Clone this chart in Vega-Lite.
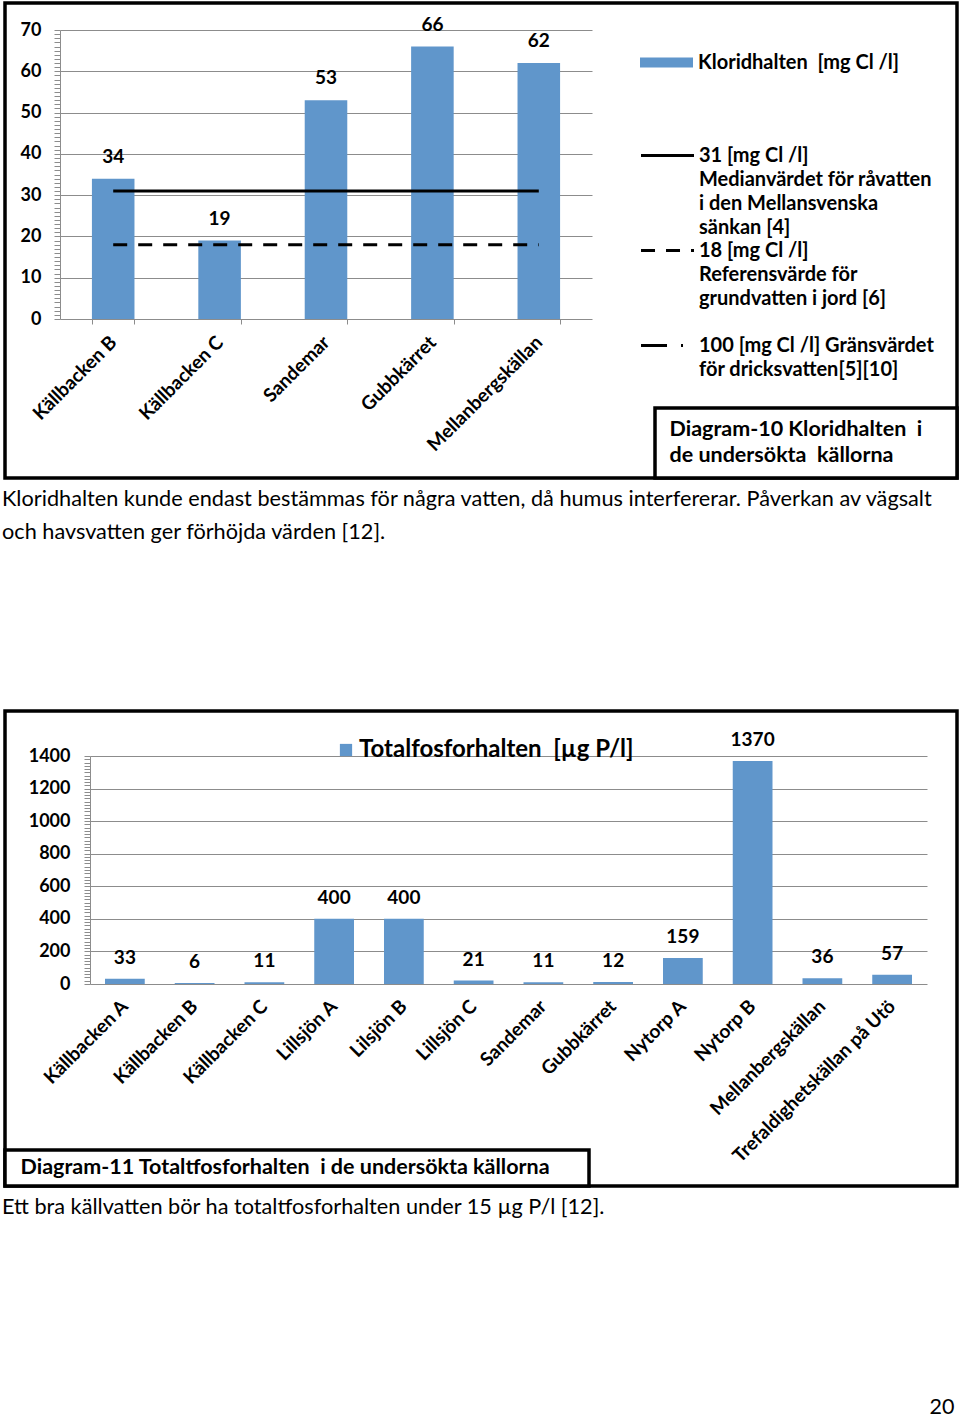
{
  "$schema": "https://vega.github.io/schema/vega-lite/v6.json",
  "padding": {"left": -4, "top": 1, "right": 0, "bottom": 0},
  "background": "white",
  "config": {
    "font": "Lato",
    "view": {"stroke": "black", "strokeWidth": 3.5},
    "axis": {"labelFont": "Lato", "labelFontWeight": "bold", "labelColor": "black", "domainColor": "#8c8c8c", "tickColor": "#8c8c8c", "gridColor": "#8c8c8c"},
    "legend": {"labelLimit": 700, "labelFont": "Lato", "labelColor": "black"},
    "concat": {"spacing": 163},
    "title": {"font": "Lato", "fontWeight": "normal", "color": "black"}
  },
  "resolve": {"scale": {"color": "independent", "shape": "independent", "strokeDash": "independent"}, "legend": {"color": "independent", "shape": "independent", "strokeDash": "independent"}},
  "title": {"text": "20", "orient": "bottom", "anchor": "end", "fontSize": 21.5, "offset": 177, "dx": -6},
  "vconcat": [
    {
      "width": 952,
      "height": 475,
      "title": {"text": ["Kloridhalten kunde endast bestämmas för några vatten, då humus interfererar. Påverkan av vägsalt", "och havsvatten ger förhöjda värden [12]."], "orient": "bottom", "anchor": "start", "frame": "group", "fontSize": 21.7, "lineHeight": 33, "offset": 9, "dx": -3},
      "data": {"values": [
        {"kalla": "Källbacken B", "klorid": 34},
        {"kalla": "Källbacken C", "klorid": 19},
        {"kalla": "Sandemar", "klorid": 53},
        {"kalla": "Gubbkärret", "klorid": 66},
        {"kalla": "Mellanbergskällan", "klorid": 62}
      ]},
      "layer": [
        {
          "mark": {"type": "bar"},
          "encoding": {
            "x": {"field": "kalla", "type": "nominal", "sort": null,
              "scale": {"domain": ["Källbacken B", "Källbacken C", "Sandemar", "Gubbkärret", "Mellanbergskällan"], "range": [55, 587], "paddingInner": 0.6, "paddingOuter": 0.3},
              "axis": {"title": null, "offset": -159, "labelAngle": -45, "labelAlign": "right", "labelBaseline": "middle", "labelFontSize": 19, "labelPadding": 15, "tickBand": "extent", "tickSize": 5, "labelLimit": 300}},
            "y": {"field": "klorid", "type": "quantitative",
              "scale": {"domain": [0, 70], "range": [316, 27], "nice": false},
              "axis": {"title": null, "offset": -55, "tickCount": 200, "format": "d", "values": [0,1,2,3,4,5,6,7,8,9,10,11,12,13,14,15,16,17,18,19,20,21,22,23,24,25,26,27,28,29,30,31,32,33,34,35,36,37,38,39,40,41,42,43,44,45,46,47,48,49,50,51,52,53,54,55,56,57,58,59,60,61,62,63,64,65,66,67,68,69,70],
                "labelExpr": "datum.value % 10 == 0 ? datum.label : ''", "labelOverlap": false, "labelFontSize": 18, "labelPadding": 13, "tickSize": 6,
                "grid": true, "gridOpacity": {"condition": {"test": "datum.value % 10 == 0 && datum.value > 0", "value": 1}, "value": 0}}},
            "color": {"datum": "Kloridhalten\u00a0 [mg Cl /l]", "type": "nominal", "scale": {"range": ["#6096cb"]},
              "legend": {"orient": "none", "legendX": 635, "legendY": 33, "title": null, "padding": 0, "symbolType": "M-1,-0.19H1V0.19H-1Z", "symbolSize": 2809, "symbolStrokeWidth": 0, "symbolOpacity": 1, "labelFontSize": 20, "labelFontWeight": "bold", "labelOffset": 5}}
          }
        },
        {
          "mark": {"type": "text", "baseline": "alphabetic", "dy": -16, "fontSize": 19, "fontWeight": "bold", "font": "Lato", "color": "black"},
          "encoding": {
            "x": {"field": "kalla", "type": "nominal", "sort": null},
            "y": {"field": "klorid", "type": "quantitative"},
            "text": {"field": "klorid", "type": "quantitative"}
          }
        },
        {
          "data": {"values": [
            {"ref": "31 [mg Cl /l] Medianvärdet för råvatten i den Mellansvenska sänkan [4]", "varde": 31},
            {"ref": "18 [mg Cl /l] Referensvärde för grundvatten i jord [6]", "varde": 18}
          ]},
          "mark": {"type": "rule", "strokeWidth": 3, "color": "black"},
          "encoding": {
            "x": {"datum": "Källbacken B", "bandPosition": 0.5},
            "x2": {"datum": "Mellanbergskällan", "bandPosition": 0.5},
            "y": {"field": "varde", "type": "quantitative"},
            "strokeDash": {"field": "ref", "type": "nominal",
              "scale": {"domain": ["31 [mg Cl /l] Medianvärdet för råvatten i den Mellansvenska sänkan [4]", "18 [mg Cl /l] Referensvärde för grundvatten i jord [6]", "100 [mg Cl /l] Gränsvärdet för dricksvatten[5][10]"], "range": [[1, 0], [14, 11], [26, 14, 2, 14]]},
              "legend": {"orient": "none", "legendX": 650, "legendY": 140, "title": null, "padding": 0, "symbolType": "M-2.5,0H2.5", "symbolSize": 449, "symbolStrokeWidth": 3, "symbolStrokeColor": "black", "symbolFillColor": "transparent", "labelFontSize": 20, "labelFontWeight": "bold", "labelOffset": 19, "labelBaseline": "middle", "rowPadding": 0,
                "labelExpr": "datum.label == '31 [mg Cl /l] Medianvärdet för råvatten i den Mellansvenska sänkan [4]' ? ['31 [mg Cl /l]', 'Medianvärdet för råvatten', 'i den Mellansvenska', 'sänkan [4]'] : datum.label == '18 [mg Cl /l] Referensvärde för grundvatten i jord [6]' ? ['18 [mg Cl /l]', 'Referensvärde för', 'grundvatten i jord [6]', ''] : ['100 [mg Cl /l] Gränsvärdet', 'för dricksvatten[5][10]']",
                "encoding": {"labels": {"lineHeight": {"value": 24}}}}}
          }
        },
        {
          "mark": {"type": "point", "opacity": 0},
          "encoding": {
            "x": {"field": "kalla", "type": "nominal", "sort": null},
            "y": {"field": "klorid", "type": "quantitative"},
            "shape": {"datum": "Diagram-10 Kloridhalten i de undersökta källorna", "type": "nominal",
              "legend": {"orient": "none", "legendX": 650, "legendY": 405, "title": null, "padding": 11, "strokeColor": "black", "fillColor": "white", "symbolSize": 0, "symbolOpacity": 0, "labelOffset": -18, "labelFontSize": 21.5, "labelFontWeight": "bold", "labelBaseline": "middle",
                "labelExpr": "['Diagram-10 Kloridhalten\u00a0 i\u00a0\u00a0\u00a0\u00a0\u2009\u200b', 'de undersökta\u00a0 källorna']",
                "encoding": {"labels": {"lineHeight": {"value": 26}}, "legend": {"strokeWidth": {"value": 3.5}}}}}
          }
        }
      ]
    },
    {
      "width": 952,
      "height": 475,
      "title": {"text": "Ett bra källvatten bör ha totaltfosforhalten under 15 µg P/l [12].", "orient": "bottom", "anchor": "start", "frame": "group", "fontSize": 21.7, "offset": 9, "dx": -3},
      "data": {"values": [
        {"kalla": "Källbacken A", "fosfor": 33},
        {"kalla": "Källbacken B", "fosfor": 6},
        {"kalla": "Källbacken C", "fosfor": 11},
        {"kalla": "Lillsjön A", "fosfor": 400},
        {"kalla": "Lilsjön B", "fosfor": 400},
        {"kalla": "Lillsjön C", "fosfor": 21},
        {"kalla": "Sandemar", "fosfor": 11},
        {"kalla": "Gubbkärret", "fosfor": 12},
        {"kalla": "Nytorp A", "fosfor": 159},
        {"kalla": "Nytorp B", "fosfor": 1370},
        {"kalla": "Mellanbergskällan", "fosfor": 36},
        {"kalla": "Trefaldighetskällan på Utö", "fosfor": 57}
      ]},
      "layer": [
        {
          "mark": {"type": "bar"},
          "encoding": {
            "x": {"field": "kalla", "type": "nominal", "sort": null,
              "scale": {"range": [85, 922], "paddingInner": 0.43, "paddingOuter": 0.215},
              "axis": {"title": null, "offset": -202, "labelAngle": -45, "labelAlign": "right", "labelBaseline": "middle", "labelFontSize": 19, "labelPadding": 19, "ticks": false, "labelLimit": 300}},
            "y": {"field": "fosfor", "type": "quantitative",
              "scale": {"domain": [0, 1400], "range": [273, 45], "nice": false},
              "axis": {"title": null, "offset": -85, "tickCount": 200, "values": [0,20,40,60,80,100,120,140,160,180,200,220,240,260,280,300,320,340,360,380,400,420,440,460,480,500,520,540,560,580,600,620,640,660,680,700,720,740,760,780,800,820,840,860,880,900,920,940,960,980,1000,1020,1040,1060,1080,1100,1120,1140,1160,1180,1200,1220,1240,1260,1280,1300,1320,1340,1360,1380,1400],
                "labelExpr": "datum.value % 200 == 0 ? datum.label : ''", "format": "d", "labelOverlap": false, "labelFontSize": 18, "labelPadding": 14, "tickSize": 6,
                "grid": true, "gridOpacity": {"condition": {"test": "datum.value % 200 == 0 && datum.value > 0", "value": 1}, "value": 0}}},
            "color": {"datum": "Totalfosforhalten\u00a0 [µg P/l]", "type": "nominal", "scale": {"range": ["#6096cb"]},
              "legend": {"orient": "none", "legendX": 329, "legendY": 27, "title": null, "padding": 0, "symbolType": "square", "symbolSize": 150, "symbolStrokeWidth": 0, "symbolOpacity": 1, "labelFontSize": 24, "labelFontWeight": "bold", "labelOffset": 1}}
          }
        },
        {
          "mark": {"type": "text", "baseline": "alphabetic", "dy": -15, "fontSize": 19, "fontWeight": "bold", "font": "Lato", "color": "black"},
          "encoding": {
            "x": {"field": "kalla", "type": "nominal", "sort": null},
            "y": {"field": "fosfor", "type": "quantitative"},
            "text": {"field": "fosfor", "type": "quantitative"}
          }
        },
        {
          "mark": {"type": "point", "opacity": 0},
          "encoding": {
            "x": {"field": "kalla", "type": "nominal", "sort": null},
            "y": {"field": "fosfor", "type": "quantitative"},
            "shape": {"datum": "Diagram-11 Totaltfosforhalten i de undersökta källorna", "type": "nominal",
              "legend": {"orient": "none", "legendX": 0, "legendY": 439, "title": null, "padding": 7, "strokeColor": "black", "fillColor": "white", "symbolSize": 0, "symbolOpacity": 0, "labelOffset": -13, "labelFontSize": 21.5, "labelFontWeight": "bold",
                "labelExpr": "'Diagram-11 Totaltfosforhalten\u00a0 i de undersökta källorna\u00a0\u00a0\u00a0\u00a0\u00a0\u00a0\u200b'",
                "encoding": {"legend": {"strokeWidth": {"value": 3.5}}}}}
          }
        }
      ]
    }
  ]
}
